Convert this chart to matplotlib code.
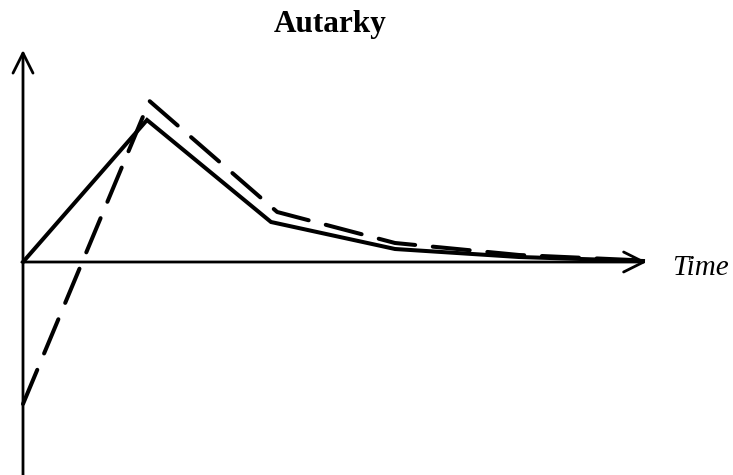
import matplotlib.pyplot as plt

# time steps (arbitrary units) and responses
t_solid = [0, 1, 2, 3, 4, 5]
y_solid = [0.0, 1.42, 0.40, 0.13, 0.05, 0.01]

t_dash = [0, 1.02, 2.05, 3.0, 4.0, 5.0]
y_dash = [-1.42, 1.61, 0.50, 0.19, 0.07, 0.015]

title = 'Autarky'
xlabel = 'Time'

W, H = 733, 475
fig = plt.figure(figsize=(W / 100, H / 100), dpi=100)
ax = fig.add_axes([0, 0, 1, 1])
ax.set_xlim(-23 / 124, (W - 23) / 124)
ax.set_ylim(-(H - 262) / 100, 262 / 100)
ax.axis('off')

# axes with open arrow heads
arrow = dict(arrowstyle='->', lw=2.0, color='black', mutation_scale=36,
             shrinkA=0, shrinkB=0)
ax.annotate('', xy=(0, 2.12), xytext=(0, -2.13), arrowprops=arrow)
ax.annotate('', xy=(5.03, 0), xytext=(0, 0), arrowprops=arrow)

ax.plot(t_solid, y_solid, color='black', lw=2.9, solid_joinstyle='miter')
ax.plot(t_dash, y_dash, color='black', lw=2.9, linestyle=(0, (9.2, 4.4)),
        dash_capstyle='round')

fig.text(330 / W, 1 - 32 / H, title, ha='center', va='baseline',
         fontsize=22.5, fontweight='bold', family='Liberation Serif')
fig.text(672 / W, 1 - 275 / H, xlabel, ha='left', va='baseline',
         fontsize=21, fontstyle='italic', family='Liberation Serif')

fig.savefig('out.png', dpi=100)
